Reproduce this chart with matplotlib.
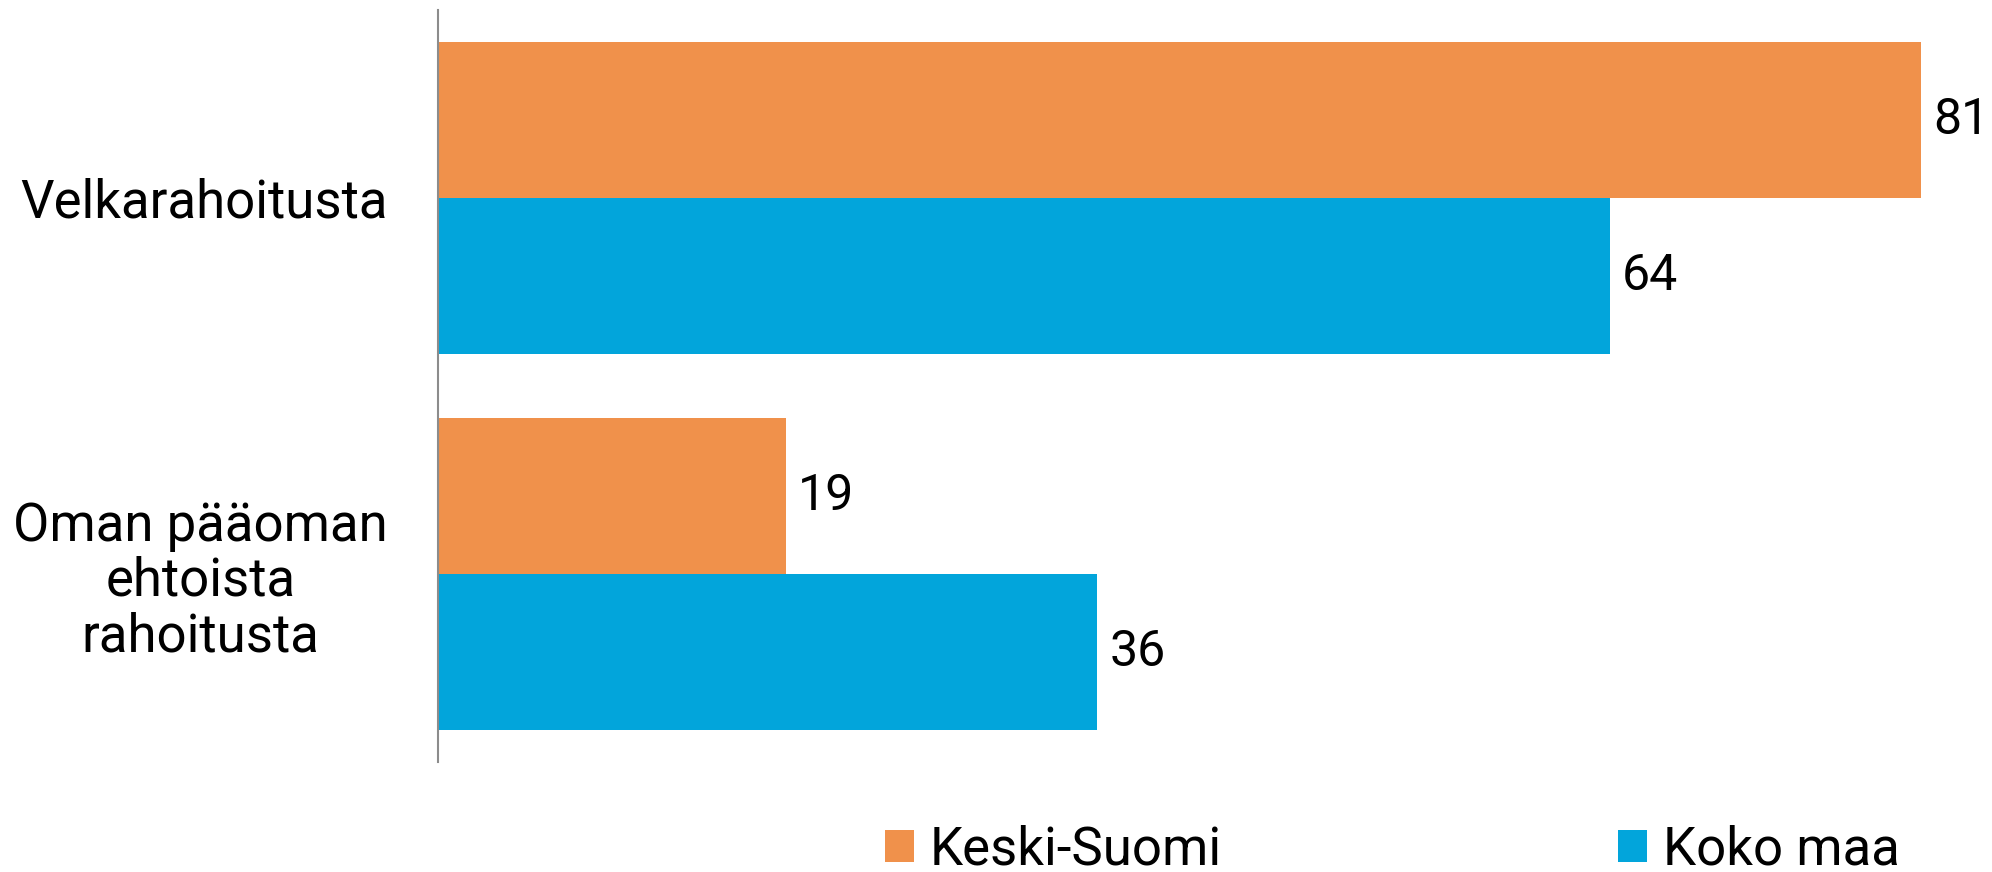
import matplotlib.pyplot as plt
import numpy as np

# data
kategoriat = ['Velkarahoitusta', 'Oman pääoman\nehtoista\nrahoitusta']
sarjat = ['Keski-Suomi', 'Koko maa']
keski_suomi = [81, 19]
koko_maa = [64, 36]
varit = ['#F0914B', '#02A5DB']

plt.rcParams['font.family'] = ['Roboto', 'DejaVu Sans']
fs = 38

fig = plt.figure(figsize=(19.92, 8.72), dpi=100)
ax = fig.add_axes([438 / 1992, 1 - 762 / 872, 1556 / 1992, 752 / 872])

y = np.arange(len(kategoriat))
h = 0.415
b1 = ax.barh(y - h / 2, keski_suomi, height=h, color=varit[0], label=sarjat[0])
b2 = ax.barh(y + h / 2, koko_maa, height=h, color=varit[1], label=sarjat[1])

# arvot palkkien perään
for bars in (b1, b2):
    ax.bar_label(bars, padding=9, fontsize=36)

ax.set_ylim(-0.5, 1.5)
ax.invert_yaxis()
ax.set_xlim(0, 85)
ax.set_yticks(y)
ax.set_yticklabels(kategoriat, fontsize=fs, multialignment='center', linespacing=1.1)
ax.tick_params(axis='y', length=0, pad=36)
ax.set_xticks([])
for s in ['top', 'right', 'bottom']:
    ax.spines[s].set_visible(False)
ax.spines['left'].set_color('#8c8c8c')
ax.spines['left'].set_linewidth(1.5)

fig.legend(handles=[b1, b2], loc='center left', bbox_to_anchor=(885 / 1992, 1 - 850 / 872),
           ncol=2, frameon=False, fontsize=fs, handlelength=0.55, handleheight=0.55,
           handletextpad=0.3, columnspacing=7.5, borderaxespad=0, borderpad=0)

fig.savefig('out.png', dpi=100)
